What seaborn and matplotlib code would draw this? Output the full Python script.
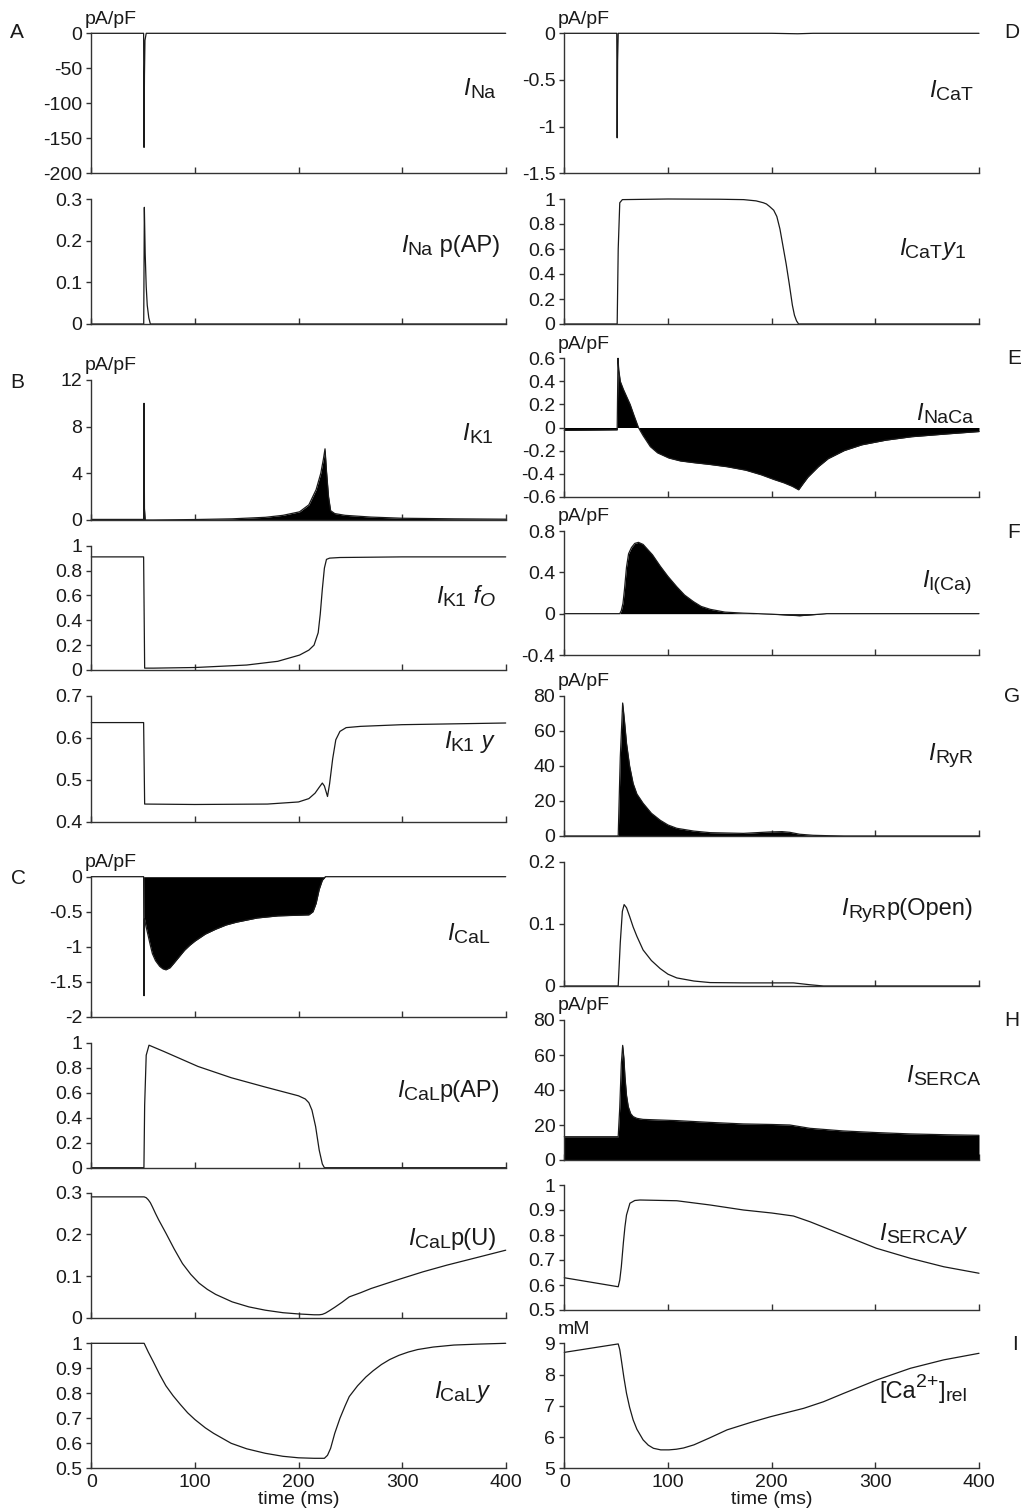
import matplotlib
matplotlib.use("Agg")
import matplotlib.pyplot as plt
from matplotlib.ticker import FuncFormatter
import seaborn as sns

# ---------------- data (time in ms) ----------------
ina_t = [0, 50.5, 50.9, 51.3, 51.8, 53, 400]
ina_v = [0, 0, -163, -60, -10, 0, 0]

ina_pap_t = [0, 50.6, 51.2, 52, 53, 54, 55.5, 57, 400]
ina_pap_v = [0, 0, 0.28, 0.17, 0.09, 0.045, 0.015, 0, 0]

ik1_t = [0, 50.5, 50.9, 51.3, 52, 60, 100, 136, 168, 185, 201, 210, 217, 221.5, 224, 225.6,
         227, 229, 231, 235, 245, 270, 300, 350, 400]
ik1_v = [0.05, 0.05, 10.0, 1.0, 0.0, 0.0, 0.04, 0.1, 0.23, 0.4, 0.7, 1.3, 2.6, 4.0, 5.2, 6.1,
         4.2, 2.0, 0.8, 0.55, 0.4, 0.25, 0.15, 0.1, 0.07]

ik1_fo_t = [0, 50.5, 51.5, 60, 100, 150, 180, 201, 210, 215, 219, 221, 223, 225, 227, 230, 240, 300, 400]
ik1_fo_v = [0.91, 0.91, 0.015, 0.015, 0.02, 0.04, 0.07, 0.12, 0.16, 0.2, 0.3, 0.45, 0.65, 0.82, 0.89,
            0.9, 0.905, 0.91, 0.91]

ik1_y_t = [0, 50.5, 51.5, 100, 170, 200, 210, 216, 220, 223, 225, 228, 230, 233, 236, 240, 246, 260, 300, 400]
ik1_y_v = [0.636, 0.636, 0.442, 0.441, 0.442, 0.447, 0.455, 0.468, 0.482, 0.492, 0.485, 0.46, 0.49,
           0.55, 0.595, 0.615, 0.624, 0.627, 0.631, 0.635]

ical_t = [0, 50.5, 50.9, 51.4, 53, 55, 57, 59, 62, 66, 69, 72, 76, 80, 85, 90, 95, 100, 110, 120, 130,
          140, 150, 160, 180, 200, 210, 214, 217, 220, 223, 226, 400]
ical_v = [0, 0, -1.7, -0.6, -0.72, -0.85, -0.98, -1.1, -1.2, -1.28, -1.315, -1.33, -1.3, -1.23, -1.14,
          -1.05, -0.98, -0.92, -0.82, -0.75, -0.69, -0.65, -0.62, -0.59, -0.56, -0.55, -0.545, -0.5,
          -0.38, -0.18, -0.05, 0, 0]

ical_pap_t = [0, 50.8, 51.5, 53, 55.7, 70, 103, 135, 168, 200, 206.5, 210, 213, 216.5, 220, 223, 225, 400]
ical_pap_v = [0, 0, 0.5, 0.9, 0.98, 0.93, 0.81, 0.72, 0.645, 0.575, 0.55, 0.52, 0.46, 0.33, 0.14,
              0.03, 0, 0]

ical_pu_t = [0, 51, 53, 55, 57, 59, 62, 65, 72, 80, 88, 96, 104, 112, 120, 136, 152, 168, 185, 200,
             215, 220, 223, 226, 230, 235, 242, 249, 260, 270, 297, 320, 343, 370, 400]
ical_pu_v = [0.29, 0.29, 0.288, 0.283, 0.276, 0.266, 0.25, 0.235, 0.203, 0.165, 0.13, 0.104, 0.083,
             0.068, 0.056, 0.038, 0.026, 0.018, 0.012, 0.009, 0.007, 0.007, 0.008, 0.011, 0.017,
             0.025, 0.037, 0.05, 0.06, 0.07, 0.092, 0.11, 0.126, 0.143, 0.162]

ical_y_t = [0, 51, 55, 60, 66, 72, 79, 86, 93, 100, 110, 118, 135, 150, 168, 185, 200, 215, 225,
            228, 231, 235, 240, 245, 249, 257, 265, 272, 280, 288, 297, 306, 315, 330, 350, 375, 400]
ical_y_v = [1.0, 1.0, 0.965, 0.925, 0.875, 0.83, 0.79, 0.755, 0.722, 0.695, 0.662, 0.64, 0.6, 0.578,
            0.56, 0.548, 0.542, 0.54, 0.54, 0.552, 0.58, 0.64, 0.7, 0.75, 0.787, 0.83, 0.865, 0.89,
            0.915, 0.935, 0.952, 0.965, 0.975, 0.985, 0.993, 0.997, 1.0]

icat_t = [0, 50.6, 51.0, 51.4, 52, 200, 215, 225, 240, 400]
icat_v = [0, 0, -1.12, -0.3, 0, 0, -0.003, -0.005, 0, 0]

icat_y1_t = [0, 51, 52, 53.5, 56, 100, 150, 173, 185, 192, 195, 198, 202, 205, 208, 211, 214, 217,
             220, 222, 224, 226, 400]
icat_y1_v = [0, 0, 0.6, 0.97, 0.995, 1.0, 0.998, 0.995, 0.985, 0.97, 0.96, 0.94, 0.91, 0.86, 0.76,
             0.62, 0.48, 0.32, 0.15, 0.07, 0.025, 0.0, 0]

inaca_t = [0, 51, 51.8, 52.5, 54, 57, 60, 63.5, 67, 71.5, 76, 83, 90, 101, 112, 125, 140, 157, 175,
           190, 202, 212, 220, 226, 230, 235, 245, 254.5, 270, 287, 310, 335, 370, 400]
inaca_v = [-0.025, -0.02, 0.6, 0.5, 0.4, 0.33, 0.27, 0.2, 0.11, 0.0, -0.07, -0.166, -0.22, -0.265,
           -0.29, -0.305, -0.32, -0.34, -0.37, -0.41, -0.45, -0.48, -0.51, -0.54, -0.49, -0.43, -0.34,
           -0.27, -0.2, -0.15, -0.11, -0.08, -0.055, -0.035]

ica_t = [0, 53.5, 55, 56.6, 58, 60, 62, 64.8, 68, 71.5, 76, 85, 92.5, 100, 108.5, 116, 124.6, 132,
         140.7, 155, 172.8, 200, 227, 253, 400]
ica_v = [0, 0, 0.03, 0.1, 0.23, 0.45, 0.58, 0.64, 0.68, 0.69, 0.67, 0.57, 0.46, 0.36, 0.26, 0.18,
         0.116, 0.07, 0.042, 0.015, 0.005, -0.005, -0.02, 0, 0]

iryr_t = [0, 52, 54, 56.3, 58, 60, 63, 66.4, 70, 76, 84, 92.5, 100, 108.5, 125, 140.7, 172.8, 198,
          210, 217.5, 227, 240, 252.5, 270, 400]
iryr_v = [0, 0, 45, 76, 66, 53, 40, 30, 24, 18.7, 13, 9, 6.3, 4.4, 2.8, 1.9, 1.5, 2.3, 2.5, 2.1,
          1.0, 0.4, 0.2, 0, 0]

iryr_po_t = [0, 52, 54, 56, 57.7, 60, 63, 66.4, 70, 76, 84, 92.5, 100, 108.5, 125, 140.7, 172.8,
             200, 221, 237, 250, 400]
iryr_po_v = [0, 0, 0.07, 0.12, 0.131, 0.126, 0.112, 0.095, 0.08, 0.058, 0.041, 0.028, 0.019, 0.013,
             0.008, 0.0055, 0.005, 0.005, 0.005, 0.002, 0, 0]

iserca_t = [0, 52, 53.5, 55, 56.3, 57.5, 58.5, 60, 61.7, 64, 66.4, 70, 76, 108.5, 140, 172.8, 200,
            217.5, 237, 269, 300, 333.6, 370, 400]
iserca_v = [13.3, 13.3, 30, 55, 65.5, 58, 47.6, 37, 30.5, 26.5, 24.8, 23.8, 23.2, 22.5, 21.5, 20.6,
            20.3, 20, 18.1, 16.6, 15.7, 14.9, 14.4, 14.1]

iserca_y_t = [0, 52, 53.5, 55, 57, 58.5, 60, 63.3, 68, 73, 108.5, 140.7, 172.8, 200, 221, 237, 269,
              301, 333.6, 366, 400]
iserca_y_v = [0.629, 0.593, 0.62, 0.673, 0.77, 0.833, 0.88, 0.927, 0.938, 0.94, 0.937, 0.92, 0.9,
              0.888, 0.876, 0.853, 0.8, 0.747, 0.707, 0.673, 0.647]

carel_t = [0, 52, 53.5, 55, 57.5, 60, 63, 66.4, 70, 76, 81, 86, 93, 101, 108, 115, 125, 140, 157,
           180, 198.8, 231, 250, 269.6, 301.7, 333.8, 366, 400]
carel_v = [8.71, 8.98, 8.8, 8.47, 7.9, 7.4, 6.95, 6.55, 6.25, 5.91, 5.74, 5.64, 5.59, 5.59, 5.61,
           5.65, 5.75, 5.97, 6.23, 6.47, 6.65, 6.92, 7.13, 7.4, 7.83, 8.2, 8.47, 8.68]

x_ticks = [0, 100, 200, 300, 400]
x_label = "time (ms)"

# ---------------- style ----------------
sns.set_style("ticks")
plt.rcParams["font.family"] = ["Liberation Sans", "DejaVu Sans"]
plt.rcParams["axes.unicode_minus"] = False

W, H = 1021, 1511
fig = plt.figure(figsize=(W / 100, H / 100), dpi=100)
renderer = fig.canvas.get_renderer()

TICK_FS = 14
MAIN = 17
SUB = 14
INK = "#1a1a1a"

LEFT = (91.3, 505.7)
RIGHT = (564.3, 979.0)


def I_(sub, extra=None):
    parts = [("I", MAIN, "italic", 0, 0), (sub, SUB, "normal", -2.5, 0)]
    if extra:
        parts += extra
    return parts


# column, top px, bottom px, t, v, ylim, yticks, filled, label parts, label right px, label baseline px, unit, letter
panels = [
    (LEFT, 33.3, 173.3, ina_t, ina_v, (-200, 0), [-200, -150, -100, -50, 0], False,
     I_("Na"), 495, 95, "pA/pF", "A"),
    (LEFT, 199, 324, ina_pap_t, ina_pap_v, (0, 0.3), [0, 0.1, 0.2, 0.3], False,
     I_("Na", [(" p(AP)", MAIN, "normal", 0, 0)]), 500, 252, None, None),
    (LEFT, 380, 520, ik1_t, ik1_v, (0, 12), [0, 4, 8, 12], True,
     I_("K1"), 493, 440, "pA/pF", "B"),
    (LEFT, 545.7, 670, ik1_fo_t, ik1_fo_v, (0, 1), [0, 0.2, 0.4, 0.6, 0.8, 1], False,
     I_("K1", [(" f", MAIN, "italic", 0, 0), ("O", SUB, "italic", -2.5, 0)]), 495, 603, None, None),
    (LEFT, 695.7, 821.7, ik1_y_t, ik1_y_v, (0.4, 0.7), [0.4, 0.5, 0.6, 0.7], False,
     I_("K1", [(" y", MAIN, "italic", 0, 0)]), 493, 748, None, None),
    (LEFT, 876.7, 1016.7, ical_t, ical_v, (-2, 0), [-2, -1.5, -1, -0.5, 0], True,
     I_("CaL"), 490, 940, "pA/pF", "C"),
    (LEFT, 1042.7, 1167.7, ical_pap_t, ical_pap_v, (0, 1), [0, 0.2, 0.4, 0.6, 0.8, 1], False,
     I_("CaL", [("p(AP)", MAIN, "normal", 0, 0)]), 500, 1097, None, None),
    (LEFT, 1192.7, 1317.7, ical_pu_t, ical_pu_v, (0, 0.3), [0, 0.1, 0.2, 0.3], False,
     I_("CaL", [("p(U)", MAIN, "normal", 0, 0)]), 497, 1245, None, None),
    (LEFT, 1343.3, 1468.3, ical_y_t, ical_y_v, (0.5, 1), [0.5, 0.6, 0.7, 0.8, 0.9, 1], False,
     I_("CaL", [("y", MAIN, "italic", 0, 0)]), 488, 1398, None, None),
    (RIGHT, 33.3, 173.3, icat_t, icat_v, (-1.5, 0), [-1.5, -1, -0.5, 0], False,
     I_("CaT"), 973, 97, "pA/pF", "D"),
    (RIGHT, 199, 324, icat_y1_t, icat_y1_v, (0, 1), [0, 0.2, 0.4, 0.6, 0.8, 1], False,
     I_("CaT", [("y", MAIN, "italic", 0, 0), ("1", SUB, "normal", -2.5, 0)]), 965, 255, None, None),
    (RIGHT, 358.3, 496.7, inaca_t, inaca_v, (-0.6, 0.6), [-0.6, -0.4, -0.2, 0, 0.2, 0.4, 0.6], True,
     I_("NaCa"), 973, 420, "pA/pF", "E"),
    (RIGHT, 531, 655, ica_t, ica_v, (-0.4, 0.8), [-0.4, 0, 0.4, 0.8], True,
     I_("I(Ca)"), 972, 587, "pA/pF", "F"),
    (RIGHT, 696, 836, iryr_t, iryr_v, (0, 80), [0, 20, 40, 60, 80], True,
     I_("RyR"), 973, 760, "pA/pF", "G"),
    (RIGHT, 861.7, 986, iryr_po_t, iryr_po_v, (0, 0.2), [0, 0.1, 0.2], False,
     I_("RyR", [("p(Open)", MAIN, "normal", 0, 0)]), 973, 915, None, None),
    (RIGHT, 1020, 1160, iserca_t, iserca_v, (0, 80), [0, 20, 40, 60, 80], True,
     I_("SERCA"), 980, 1082, "pA/pF", "H"),
    (RIGHT, 1185, 1310, iserca_y_t, iserca_y_v, (0.5, 1), [0.5, 0.6, 0.7, 0.8, 0.9, 1], False,
     [("I", MAIN, "italic", 0, 0), ("SERCA", SUB, "normal", -2.5, 0), ("y", MAIN, "italic", 0, 0)],
     965, 1240, None, None),
    (RIGHT, 1343.3, 1468.3, carel_t, carel_v, (5, 9), [5, 6, 7, 8, 9], False,
     [("[Ca", MAIN, "normal", 0, 0), ("2+", SUB, "normal", 8, 0), ("]", MAIN, "normal", 0, 0),
      ("rel", SUB, "normal", -2.5, 0)], 967, 1398, "mM", "I"),
]

letter_pos = {"A": (17, 33), "B": (17, 382), "C": (18, 878), "D": (1012, 33), "E": (1014, 358),
              "F": (1014, 532), "G": (1012, 697), "H": (1012, 1020), "I": (1015, 1345)}

fmt = FuncFormatter(lambda v, p: f"{v:g}")


def chain_label(parts, xr, yb):
    """Right-aligned run of text pieces; kern > 0 pushes a piece rightwards into the next."""
    x = xr
    for txt, size, style, off, kern in reversed(parts):
        right = x + kern * 100 / 72
        y = yb - off * 100 / 72
        t = fig.text(right / W, 1 - y / H, txt, ha="right", va="baseline",
                     fontsize=size, fontstyle=style, color=INK)
        bb = t.get_window_extent(renderer=renderer)
        x = bb.x0


axes = []
for (col, top, bot, t, v, ylim, yticks, filled, parts, lx, ly, unit, letter) in panels:
    x0, x1 = col
    ax = fig.add_axes([x0 / W, 1 - bot / H, (x1 - x0) / W, (bot - top) / H])
    axes.append(ax)
    sns.lineplot(x=t, y=v, ax=ax, color=INK, linewidth=0.9, estimator=None, sort=False,
                 errorbar=None)
    for ln in ax.lines:
        ln.set_clip_on(False)
    if filled:
        ax.fill_between(t, v, 0, color="black", linewidth=0)
    ax.set_xlim(0, 400)
    ax.set_ylim(*ylim)
    ax.set_yticks(yticks)
    ax.set_xticks(x_ticks)
    ax.yaxis.set_major_formatter(fmt)
    ax.set_xlabel("")
    ax.set_ylabel("")
    sns.despine(ax=ax)
    for s in ("left", "bottom"):
        ax.spines[s].set_linewidth(1.0)
        ax.spines[s].set_color("#333333")
    ax.tick_params(axis="y", direction="out", length=3.5, width=1.0, pad=3,
                   labelsize=TICK_FS, color="#333333", labelcolor=INK)
    ax.tick_params(axis="x", direction="in", length=4, width=1.0, pad=4,
                   labelsize=TICK_FS, color="#333333", labelcolor=INK, labelbottom=False)
    if unit:
        fig.text((x0 - 7) / W, 1 - (top - 14) / H, unit, ha="left", va="center",
                 fontsize=TICK_FS, color=INK)
    if letter:
        lxp, lyp = letter_pos[letter]
        fig.text(lxp / W, 1 - lyp / H, letter, ha="center", va="center", fontsize=15, color=INK)
    chain_label(parts, lx, ly)

for ax in (axes[8], axes[17]):
    ax.tick_params(axis="x", labelbottom=True)
    ax.set_xlabel(x_label, fontsize=TICK_FS, labelpad=0, color=INK)

fig.savefig("out.png", dpi=100)
